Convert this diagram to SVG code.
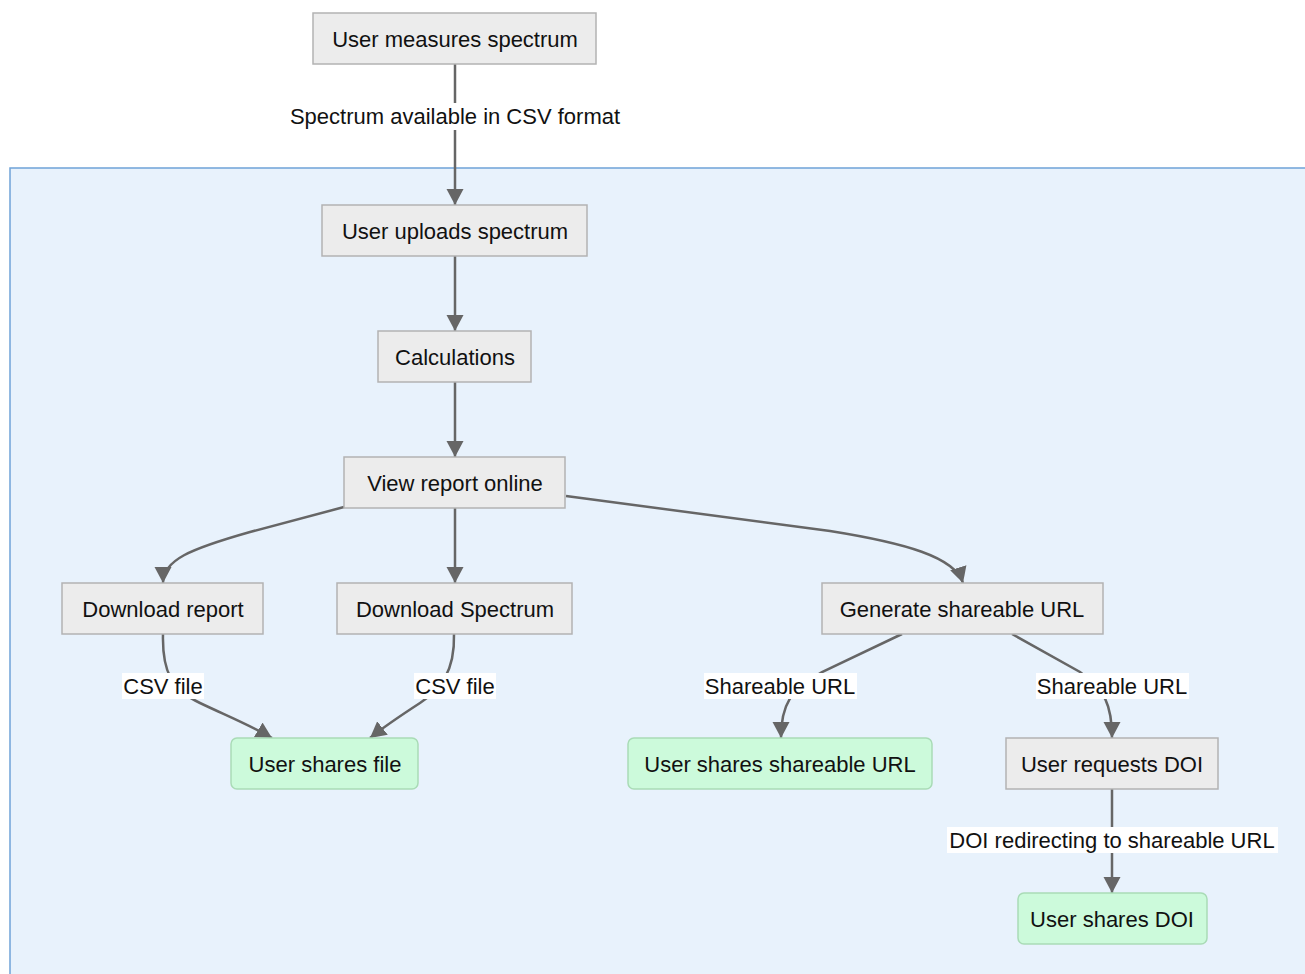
<svg xmlns="http://www.w3.org/2000/svg" width="1305" height="974" viewBox="0 0 1305 974">
<style>
.n rect{fill:#ececec;stroke:#b3b3b3;stroke-width:1.5}
.g rect{fill:#ccfadb;stroke:#a9dbb6;stroke-width:1.5}
text{font-family:"Liberation Sans",Arial,sans-serif;font-size:22px;fill:#111;text-anchor:middle}
.e path{fill:none;stroke:#666;stroke-width:2.5}
.lb{fill:#fff}
</style>
<defs>
<marker id="ah" markerUnits="userSpaceOnUse" markerWidth="18" markerHeight="18" refX="16" refY="9" orient="auto">
<path d="M0,0.5 L16,9 L0,17.5 Z" fill="#666"/>
</marker>
</defs>
<rect width="1305" height="974" fill="#fff"/>
<rect id="cluster" x="10" y="168" width="1305" height="816" fill="#e8f2fc" stroke="#6fa3d8" stroke-width="1.5"/>

<g id="connectors" class="e">
<path d="M455,64 V205" marker-end="url(#ah)"/>
<path d="M455,256 V331" marker-end="url(#ah)"/>
<path d="M455,382 V457" marker-end="url(#ah)"/>
<path d="M344,507 L250,532 C190,549 163,560 163,583" marker-end="url(#ah)"/>
<path d="M455,508 V583" marker-end="url(#ah)"/>
<path d="M566,496 L830,531 C905,543 955,557 963,583" marker-end="url(#ah)"/>
<path d="M163,634 C162,672 172,690 200,703 C225,715 250,725 272,738" marker-end="url(#ah)"/>
<path d="M454,634 C455,672 440,690 420,703 C400,716 385,726 370,738" marker-end="url(#ah)"/>
<path d="M902,634 L822,672 C790,690 781,705 781,738" marker-end="url(#ah)"/>
<path d="M1012,634 L1080,672 C1105,690 1112,705 1112,738" marker-end="url(#ah)"/>
<path d="M1112,789 V893" marker-end="url(#ah)"/>
</g>

<g id="labels">
<rect class="lb" x="286" y="103" width="338" height="27"/>
<text x="455" y="124">Spectrum available in CSV format</text>
<rect class="lb" x="122" y="673" width="82" height="26"/>
<text x="163" y="694">CSV file</text>
<rect class="lb" x="414" y="673" width="82" height="26"/>
<text x="455" y="694">CSV file</text>
<rect class="lb" x="704" y="673" width="153" height="26"/>
<text x="780" y="694">Shareable URL</text>
<rect class="lb" x="1036" y="673" width="153" height="26"/>
<text x="1112" y="694">Shareable URL</text>
<rect class="lb" x="947" y="827" width="331" height="26"/>
<text x="1112" y="848">DOI redirecting to shareable URL</text>
</g>

<g id="n-measure" class="n"><rect x="313" y="13" width="283" height="51"/><text x="455" y="47">User measures spectrum</text></g>
<g id="n-upload" class="n"><rect x="322" y="205" width="265" height="51"/><text x="455" y="239">User uploads spectrum</text></g>
<g id="n-calc" class="n"><rect x="378" y="331" width="153" height="51"/><text x="455" y="365">Calculations</text></g>
<g id="n-view" class="n"><rect x="344" y="457" width="221" height="51"/><text x="455" y="491">View report online</text></g>
<g id="n-dlreport" class="n"><rect x="62" y="583" width="201" height="51"/><text x="163" y="617">Download report</text></g>
<g id="n-dlspec" class="n"><rect x="337" y="583" width="235" height="51"/><text x="455" y="617">Download Spectrum</text></g>
<g id="n-genurl" class="n"><rect x="822" y="583" width="281" height="51"/><text x="962" y="617">Generate shareable URL</text></g>
<g id="n-sharefile" class="g"><rect x="231" y="738" width="187" height="51" rx="6"/><text x="325" y="772">User shares file</text></g>
<g id="n-shareurl" class="g"><rect x="628" y="738" width="304" height="51" rx="6"/><text x="780" y="772">User shares shareable URL</text></g>
<g id="n-reqdoi" class="n"><rect x="1006" y="738" width="212" height="51"/><text x="1112" y="772">User requests DOI</text></g>
<g id="n-sharedoi" class="g"><rect x="1018" y="893" width="189" height="51" rx="6"/><text x="1112" y="927">User shares DOI</text></g>
</svg>
